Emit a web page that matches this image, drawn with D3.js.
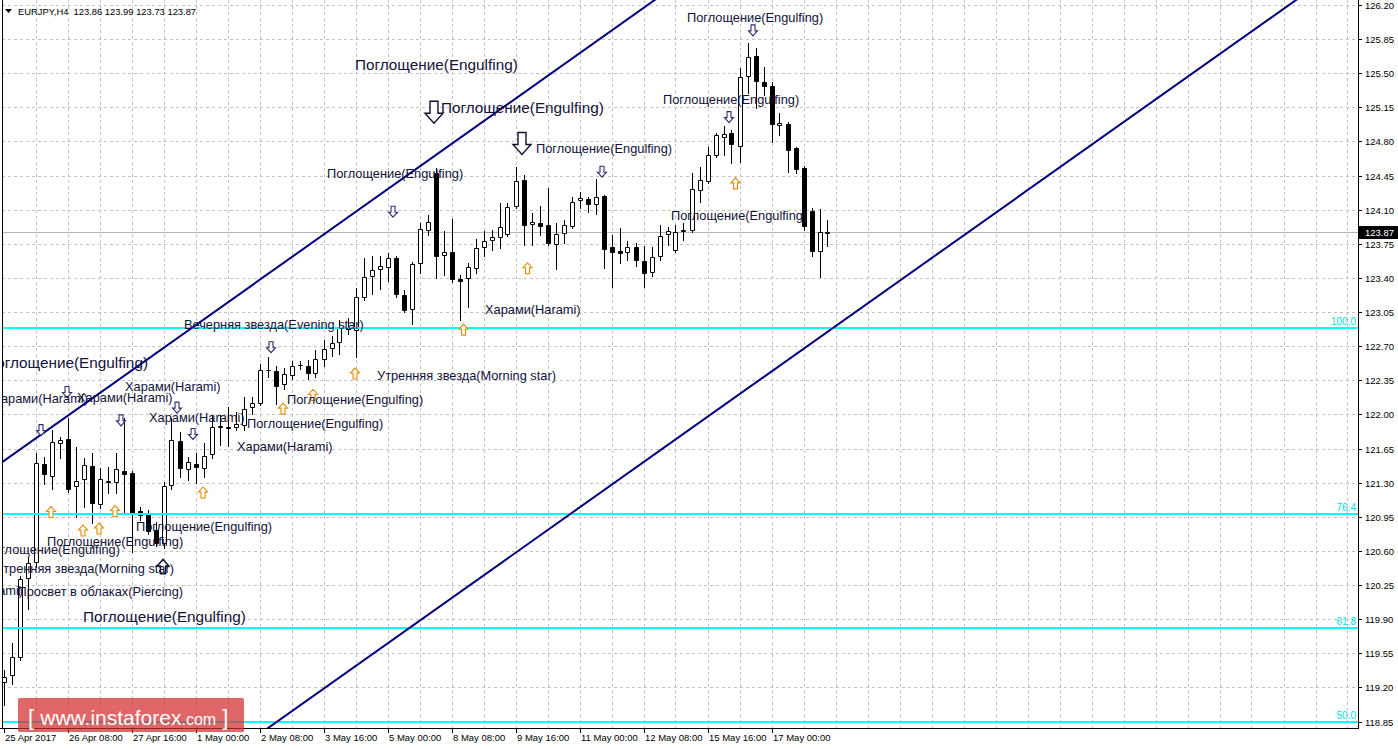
<!DOCTYPE html>
<html><head><meta charset="utf-8">
<script src="https://cdn.jsdelivr.net/npm/d3@7"></script>
<style>html,body{margin:0;padding:0;background:#fff;}svg{display:block;}</style>
</head><body>
<svg id="chart" width="1398" height="749"></svg>
<script>
// ---------- DATA ----------
const symbol = "EURJPY,H4";
const openP = [119.26,119.33,119.51,120.32,120.49,121.49,121.37,121.71,121.75,121.27,121.34,121.47,121.08,121.31,121.31,121.42,121.40,121.01,120.98,120.82,120.68,121.28,121.73,121.44,121.49,121.45,121.59,121.87,121.87,121.87,121.89,122.08,122.12,122.46,122.45,122.31,122.41,122.51,122.50,122.43,122.57,122.68,122.74,122.88,122.87,123.21,123.42,123.49,123.51,123.61,123.23,123.08,123.55,123.89,124.48,123.64,123.67,123.39,123.40,123.50,123.72,123.79,123.82,123.85,124.14,124.41,123.95,123.96,123.94,123.75,123.86,123.93,124.20,124.21,124.16,124.24,123.72,123.68,123.67,123.72,123.57,123.46,123.63,123.85,123.69,123.88,123.89,124.30,124.39,124.66,124.85,124.89,124.75,125.47,125.68,125.41,125.37,124.97,124.98,124.73,124.53,124.09,123.68,123.86];
const highP = [119.38,119.66,120.34,120.54,121.61,121.56,121.84,121.77,121.96,121.67,121.55,121.60,121.45,121.46,121.60,121.96,121.42,121.05,121.02,120.90,121.31,121.96,121.82,121.56,121.60,121.71,121.99,121.99,122.08,122.03,122.18,122.18,122.52,122.59,122.50,122.48,122.55,122.55,122.56,122.66,122.76,122.81,122.97,122.99,123.30,123.61,123.63,123.63,123.66,123.63,123.28,123.56,123.96,124.05,124.53,123.88,124.01,123.43,123.55,123.80,123.88,123.89,124.17,124.17,124.54,124.46,124.07,124.14,124.32,123.96,123.99,124.23,124.28,124.23,124.42,124.25,123.84,123.91,123.78,123.76,123.73,123.72,123.94,123.92,123.94,123.96,124.48,124.54,124.74,124.89,124.96,124.92,125.55,125.81,125.76,125.56,125.41,125.09,125.00,124.74,124.55,124.12,124.11,123.99];
const lowP = [119.02,119.24,119.48,120.01,120.44,121.29,121.24,121.55,121.20,120.95,121.05,120.89,121.04,121.19,121.19,120.99,120.59,120.92,120.77,120.65,120.63,121.24,121.36,121.33,121.30,121.36,121.55,121.69,121.68,121.84,121.84,122.01,122.10,122.38,122.11,122.26,122.36,122.47,122.36,122.38,122.50,122.60,122.62,122.83,122.59,123.17,123.24,123.29,123.37,123.20,123.05,122.93,123.45,123.84,123.40,123.43,123.36,122.97,123.10,123.45,123.63,123.69,123.71,123.83,124.12,123.74,123.74,123.84,123.74,123.49,123.76,123.91,124.12,124.08,124.06,123.50,123.31,123.55,123.58,123.52,123.31,123.42,123.58,123.74,123.67,123.79,123.87,124.18,124.37,124.64,124.66,124.58,124.59,125.30,125.14,125.28,124.79,124.87,124.49,124.48,123.89,123.63,123.41,123.73];
const closeP = [119.31,119.51,120.31,120.48,121.50,121.39,121.72,121.74,121.24,121.32,121.48,121.09,121.34,121.32,121.44,121.39,120.99,120.97,120.81,120.68,121.27,121.74,121.45,121.51,121.46,121.57,121.87,121.88,121.86,121.90,122.06,122.12,122.46,122.46,122.29,122.42,122.50,122.51,122.43,122.57,122.67,122.73,122.89,122.90,123.20,123.41,123.48,123.52,123.60,123.24,123.07,123.54,123.90,123.97,123.63,123.67,123.39,123.37,123.51,123.71,123.78,123.82,123.92,124.13,124.39,123.94,123.97,123.93,123.76,123.85,123.94,124.18,124.22,124.16,124.23,123.70,123.67,123.66,123.72,123.58,123.45,123.62,123.83,123.88,123.87,123.89,124.31,124.41,124.66,124.87,124.88,124.77,125.46,125.67,125.42,125.37,124.98,124.99,124.71,124.52,123.93,123.68,123.87,123.87];

const timeLabels = ["25 Apr 2017","26 Apr 08:00","27 Apr 16:00","1 May 00:00","2 May 08:00","3 May 16:00","5 May 00:00","8 May 08:00","9 May 16:00","11 May 00:00","12 May 08:00","15 May 16:00","17 May 00:00"];
const timeLabelEvery = 8;
const priceTicks = ["118.85","119.20","119.55","119.90","120.25","120.60","120.95","121.30","121.65","122.00","122.35","122.70","123.05","123.40","123.75","124.10","124.45","124.80","125.15","125.50","125.85","126.20"];

const fibLevels = [122.89, 120.98, 119.81, 118.85];
const fibNames  = ["100.0","76.4","61.8","50.0"];

// channel lines: [bar1, price1, bar2, price2]
const channelUpper = [0, 121.52, 80, 126.17];
const channelLower = [33, 118.78, 160, 126.16];

// pattern labels: [text, bar, price, size, anchor]
const patternLabels = [
  ["Поглощение(Engulfing)", 43.94, 125.53, "L", "start"],
  ["Поглощение(Engulfing)", 54.69, 125.09, "L", "start"],
  ["Поглощение(Engulfing)", 66.56, 124.68, "S", "start"],
  ["Поглощение(Engulfing)", 40.44, 124.43, "S", "start"],
  ["Поглощение(Engulfing)", 85.44, 126.03, "S", "start"],
  ["Поглощение(Engulfing)", 82.44, 125.18, "S", "start"],
  ["Поглощение(Engulfing)", 83.44, 123.99, "S", "start"],
  ["Харами(Harami)", 60.19, 123.03, "S", "start"],
  ["Вечерняя звезда(Evening star)", 22.56, 122.88, "S", "start"],
  ["Утренняя звезда(Morning star)", 46.69, 122.35, "S", "start"],
  ["Поглощение(Engulfing)", 18.06, 122.48, "L", "end"],
  ["Харами(Harami)", 10.56, 122.12, "S", "end"],
  ["Харами(Harami)", 9.19, 122.13, "S", "start"],
  ["Харами(Harami)", 15.19, 122.24, "S", "start"],
  ["Харами(Harami)", 18.19, 121.92, "S", "start"],
  ["Поглощение(Engulfing)", 35.44, 122.11, "S", "start"],
  ["Поглощение(Engulfing)", 30.44, 121.86, "S", "start"],
  ["Харами(Harami)", 29.19, 121.63, "S", "start"],
  ["Поглощение(Engulfing)", 16.56, 120.81, "S", "start"],
  ["Поглощение(Engulfing)", 5.44, 120.65, "S", "start"],
  ["Поглощение(Engulfing)", 14.56, 120.57, "S", "end"],
  ["Утренняя звезда(Morning star)", 21.31, 120.37, "S", "end"],
  ["Харами(Harami)", 2.44, 120.15, "S", "end"],
  ["Просвет в облаках(Piercing)", 22.44, 120.14, "S", "end"],
  ["Поглощение(Engulfing)", 9.94, 119.87, "L", "start"]
];

// signal arrows: [bar, price, direction, kind]
const signalArrows = [
  [4.69,121.84,"down","s"],[7.94,122.23,"down","s"],[14.69,121.94,"down","s"],[21.69,122.07,"down","s"],
  [23.69,121.80,"down","s"],[33.44,122.69,"down","s"],[48.69,124.08,"down","s"],[74.81,124.49,"down","s"],
  [90.69,125.05,"down","s"],[93.69,125.94,"down","s"],
  [53.81,125.10,"down","b"],[64.81,124.78,"down","b"],
  [5.94,121.00,"up","s"],[9.94,120.81,"up","s"],[11.94,120.83,"up","s"],[13.94,121.01,"up","s"],
  [24.94,121.20,"up","s"],[34.94,122.06,"up","s"],[38.69,122.20,"up","s"],[43.94,122.42,"up","s"],
  [57.5,122.87,"up","s"],[65.5,123.50,"up","s"],[91.5,124.37,"up","s"],
  [19.94,120.44,"up","m"]
];

// ---------- DRAW ----------
const svg = d3.select("#chart");
const plotL = 2, plotR = 1358, plotT = 0, plotB = 728;
const x = d3.scaleLinear().domain([0, 169.3]).range([3.5, 1357.9]);
const y = d3.scaleLinear().domain([118.85, 126.20]).range([721.6, 5]);
const font = "'Liberation Sans', Arial, sans-serif";
const px = v => Math.round(v) + 0.5;

svg.append("rect").attr("width",1398).attr("height",749).attr("fill","#fff");

svg.append("defs").append("clipPath").attr("id","plot")
  .append("rect").attr("x",plotL).attr("y",plotT).attr("width",plotR-plotL).attr("height",plotB-plotT);

const grid = svg.append("g").attr("stroke","#c3c3c3").attr("stroke-dasharray","3,3").attr("stroke-width",1);
grid.selectAll("line.h").data(priceTicks).join("line").attr("class","h")
  .attr("x1",plotL).attr("x2",plotR).attr("y1",d=>px(y(+d))).attr("y2",d=>px(y(+d)));
grid.selectAll("line.v").data(d3.range(4, 170, 4)).join("line").attr("class","v")
  .attr("y1",plotT).attr("y2",plotB).attr("x1",d=>px(x(d))).attr("x2",d=>px(x(d)));

// bid line
const lastClose = closeP[closeP.length-1];
svg.append("line").attr("x1",plotL).attr("x2",plotR).attr("y1",px(y(lastClose))).attr("y2",px(y(lastClose)))
  .attr("stroke","#b4b4b4").attr("stroke-width",1);

// candles
const bars = d3.range(openP.length);
const cg = svg.append("g").attr("clip-path","url(#plot)");
cg.selectAll("line.wick").data(bars).join("line").attr("class","wick")
  .attr("x1",i=>px(x(i))).attr("x2",i=>px(x(i)))
  .attr("y1",i=>Math.round(y(highP[i]))).attr("y2",i=>Math.round(y(lowP[i]))+1)
  .attr("stroke","#000").attr("stroke-width",1);
cg.selectAll("path.body").data(bars).join("path").attr("class","body")
  .attr("d",i=>{
    const cx = px(x(i));
    const t = Math.round(y(Math.max(openP[i],closeP[i]))) + 0.5;
    const b = Math.round(y(Math.min(openP[i],closeP[i]))) + 0.5;
    return `M${cx-2},${t}H${cx+2}V${b}H${cx-2}Z`;
  })
  .attr("fill",i=>closeP[i]>=openP[i] ? "#fff" : "#000")
  .attr("stroke","#000").attr("stroke-width",1);

// fibo levels
const fg = svg.append("g");
fg.selectAll("line").data(fibLevels).join("line")
  .attr("x1",plotL).attr("x2",plotR).attr("y1",d=>Math.round(y(d))).attr("y2",d=>Math.round(y(d)))
  .attr("stroke","#00ffff").attr("stroke-width",2);
fg.selectAll("text").data(fibLevels).join("text")
  .attr("x",plotR-2).attr("y",d=>Math.round(y(d))-3).attr("text-anchor","end")
  .attr("font-family",font).attr("font-size",10).attr("fill","#00e0e0")
  .text((d,i)=>fibNames[i]);

// channel
const chg = svg.append("g").attr("clip-path","url(#plot)");
[channelUpper, channelLower].forEach(c=>{
  const slope = (c[3]-c[1])/(c[2]-c[0]);
  const b0 = -5, b1 = 175;
  chg.append("line")
    .attr("x1",x(b0)).attr("y1",y(c[1]+slope*(b0-c[0])))
    .attr("x2",x(b1)).attr("y2",y(c[1]+slope*(b1-c[0])))
    .attr("stroke","#000080").attr("stroke-width",2);
});

// arrows
const arrowShape = "M-2,-5.5H2V0.5H4.5L0,5.5L-4.5,0.5H-2Z";
const ag = svg.append("g").attr("clip-path","url(#plot)");
ag.selectAll("path").data(signalArrows).join("path")
  .attr("d",arrowShape)
  .attr("transform",d=>{
    const s = d[3]==="b" ? 2 : (d[3]==="m" ? 1.3 : 1);
    const fy = d[2]==="up" ? -s : s;
    return `translate(${x(d[0])},${y(d[1])}) scale(${s},${fy})`;
  })
  .attr("fill","#fff")
  .attr("stroke",d=> d[3]==="s" ? (d[2]==="up" ? "#e88a00" : "#2e2e70") : "#101030")
  .attr("stroke-width",d=> d[3]==="b" ? 0.7 : 1.1);

// pattern labels
const lg = svg.append("g").attr("clip-path","url(#plot)");
lg.selectAll("text").data(patternLabels).join("text")
  .attr("x",d=>x(d[1])).attr("y",d=>y(d[2]))
  .attr("text-anchor",d=>d[4])
  .attr("font-family",font)
  .attr("font-size",d=>d[3]==="L" ? 15.3 : 12.8)
  .attr("fill","#12123a")
  .text(d=>d[0]);

// frame
svg.append("line").attr("x1",plotL+0.5).attr("x2",plotL+0.5).attr("y1",0).attr("y2",plotB).attr("stroke","#000");
svg.append("line").attr("x1",plotR+0.5).attr("x2",plotR+0.5).attr("y1",0).attr("y2",plotB+1).attr("stroke","#000");
svg.append("line").attr("x1",0).attr("x2",plotR+1).attr("y1",plotB+0.5).attr("y2",plotB+0.5).attr("stroke","#000");

// price axis
const yax = svg.append("g");
yax.selectAll("line").data(priceTicks).join("line")
  .attr("x1",plotR).attr("x2",plotR+4).attr("y1",d=>px(y(+d))).attr("y2",d=>px(y(+d))).attr("stroke","#000");
yax.selectAll("text").data(priceTicks).join("text")
  .attr("x",plotR+7).attr("y",d=>Math.round(y(+d))+4)
  .attr("font-family",font).attr("font-size",9.5).attr("fill","#000").text(d=>d);

// current price marker
const cy = Math.round(y(lastClose));
svg.append("rect").attr("x",plotR+1).attr("y",cy-6).attr("width",40).attr("height",13).attr("fill","#000");
svg.append("text").attr("x",plotR+7).attr("y",cy+4).attr("font-family",font).attr("font-size",9.5)
  .attr("fill","#fff").text(lastClose.toFixed(2));

// time axis
const xax = svg.append("g");
xax.selectAll("line").data(timeLabels).join("line")
  .attr("x1",(d,i)=>px(x(i*timeLabelEvery))).attr("x2",(d,i)=>px(x(i*timeLabelEvery)))
  .attr("y1",plotB).attr("y2",plotB+5).attr("stroke","#000");
xax.selectAll("text").data(timeLabels).join("text")
  .attr("x",(d,i)=>Math.round(x(i*timeLabelEvery))+1).attr("y",plotB+13)
  .attr("font-family",font).attr("font-size",9.5).attr("fill","#000").text(d=>d);

// header
svg.append("path").attr("d","M5,9H12L8.5,13Z").attr("fill","#000");
const n = openP.length-1;
svg.append("text").attr("x",18).attr("y",15).attr("font-family",font).attr("font-size",9.4).attr("fill","#000")
  .attr("xml:space","preserve")
  .text(`${symbol}  ${openP[n].toFixed(2)} ${highP[n].toFixed(2)} ${lowP[n].toFixed(2)} ${closeP[n].toFixed(2)}`);

// watermark
const wm = svg.append("g");
wm.append("rect").attr("x",18).attr("y",698).attr("width",226).attr("height",34).attr("rx",1.5)
  .attr("fill","rgba(210,45,45,0.72)");
const wt = wm.append("text").attr("x",28).attr("y",725).attr("fill","#fff").attr("font-family",font);
wt.append("tspan").attr("font-size",22).text("[ ");
wt.append("tspan").attr("font-size",21).text("www.instaforex");
wt.append("tspan").attr("font-size",16).text(".com");
wt.append("tspan").attr("font-size",22).text(" ]");
</script>
</body></html>
